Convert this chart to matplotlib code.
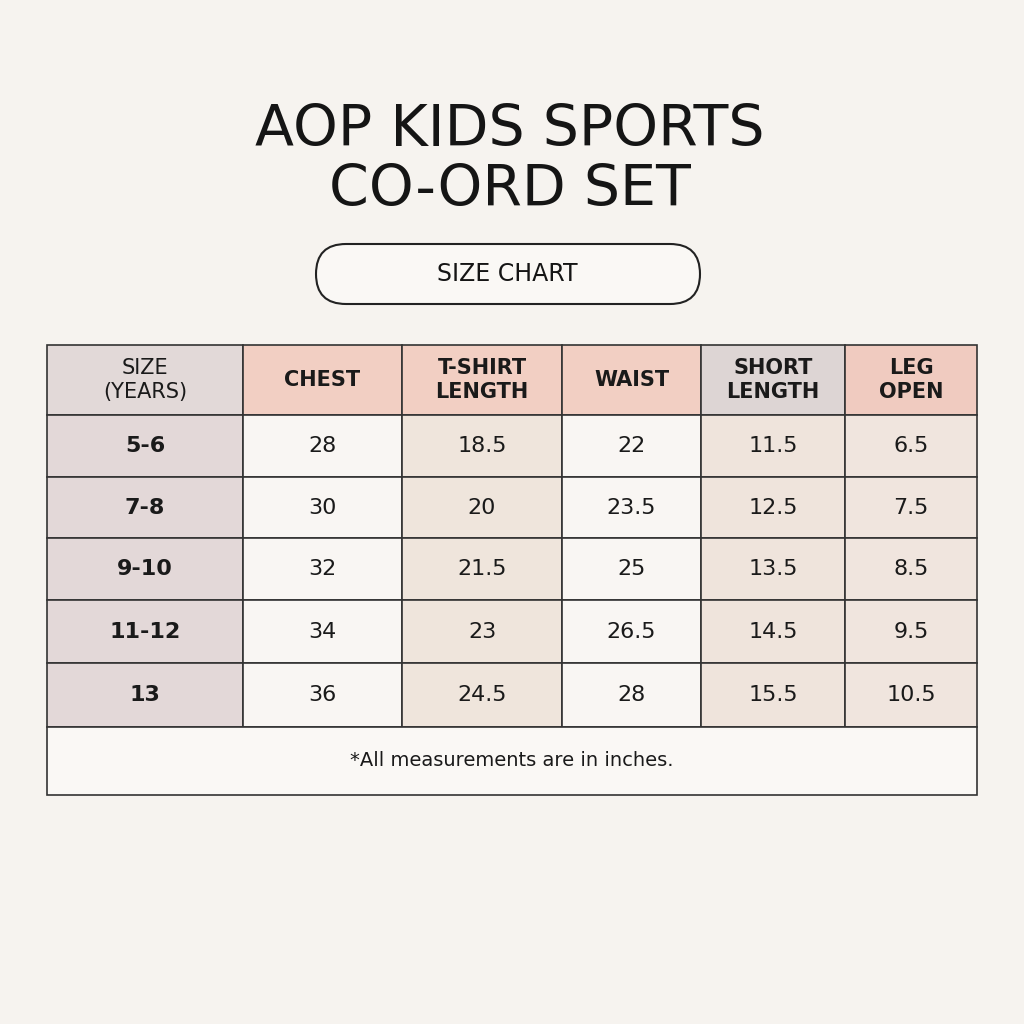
import matplotlib.pyplot as plt
from matplotlib.patches import Rectangle, FancyBboxPatch

title_lines = ["AOP KIDS SPORTS", "CO-ORD SET"]
subtitle = "SIZE CHART"
headers = ["SIZE\n(YEARS)", "CHEST", "T-SHIRT\nLENGTH", "WAIST", "SHORT\nLENGTH", "LEG\nOPEN"]
sizes = ["5-6", "7-8", "9-10", "11-12", "13"]
chest = ["28", "30", "32", "34", "36"]
tshirt = ["18.5", "20", "21.5", "23", "24.5"]
waist = ["22", "23.5", "25", "26.5", "28"]
short = ["11.5", "12.5", "13.5", "14.5", "15.5"]
leg = ["6.5", "7.5", "8.5", "9.5", "10.5"]
note = "*All measurements are in inches."

col_x = [47, 243, 402, 562, 701, 845, 977]
row_y = [345, 415, 477, 538, 600, 663, 727]
foot_bottom = 795
head_colors = ["#e2d9d8", "#f2cfc3", "#f2cfc3", "#f2cfc3", "#ddd5d4", "#f0cbc0"]
body_colors = ["#e3d8d8", "#f9f6f3", "#efe5dc", "#f9f6f3", "#efe4dc", "#f0e5de"]

fig = plt.figure(figsize=(10.24, 10.24), dpi=100)
fig.patch.set_facecolor("#f6f3ef")
ax = fig.add_axes([0, 0, 1, 1])
ax.set_xlim(0, 1024)
ax.set_ylim(1024, 0)
ax.axis("off")

font = "DejaVu Sans"
ax.text(510, 130, title_lines[0], ha="center", va="center", fontsize=41, color="#151515", family=font)
ax.text(510, 190, title_lines[1], ha="center", va="center", fontsize=41, color="#151515", family=font)
ax.add_patch(FancyBboxPatch((316, 244), 384, 60, boxstyle="round,pad=0,rounding_size=30",
                            facecolor="#faf8f5", edgecolor="#222222", lw=1.5))
ax.text(507, 274, subtitle, ha="center", va="center", fontsize=17, color="#151515", family=font)

columns = [sizes, chest, tshirt, waist, short, leg]
for c in range(6):
    x0, x1 = col_x[c], col_x[c + 1]
    ax.add_patch(Rectangle((x0, row_y[0]), x1 - x0, row_y[1] - row_y[0],
                           facecolor=head_colors[c], edgecolor="#333333", lw=1.2))
    ax.text((x0 + x1) / 2, (row_y[0] + row_y[1]) / 2, headers[c], ha="center", va="center",
            fontsize=15, color="#1a1a1a", family=font, linespacing=1.25,
            fontweight="normal" if c == 0 else "bold")
    for r in range(5):
        y0, y1 = row_y[r + 1], row_y[r + 2]
        ax.add_patch(Rectangle((x0, y0), x1 - x0, y1 - y0,
                               facecolor=body_colors[c], edgecolor="#333333", lw=1.2))
        ax.text((x0 + x1) / 2, (y0 + y1) / 2, columns[c][r], ha="center", va="center",
                fontsize=16, color="#1a1a1a", family=font,
                fontweight="bold" if c == 0 else "normal")

ax.add_patch(Rectangle((col_x[0], row_y[-1]), col_x[-1] - col_x[0], foot_bottom - row_y[-1],
                       facecolor="#faf8f5", edgecolor="#333333", lw=1.2))
ax.text(512, 761, note, ha="center", va="center", fontsize=14, color="#1a1a1a", family=font)

fig.savefig("out.png", dpi=100, facecolor=fig.get_facecolor())
